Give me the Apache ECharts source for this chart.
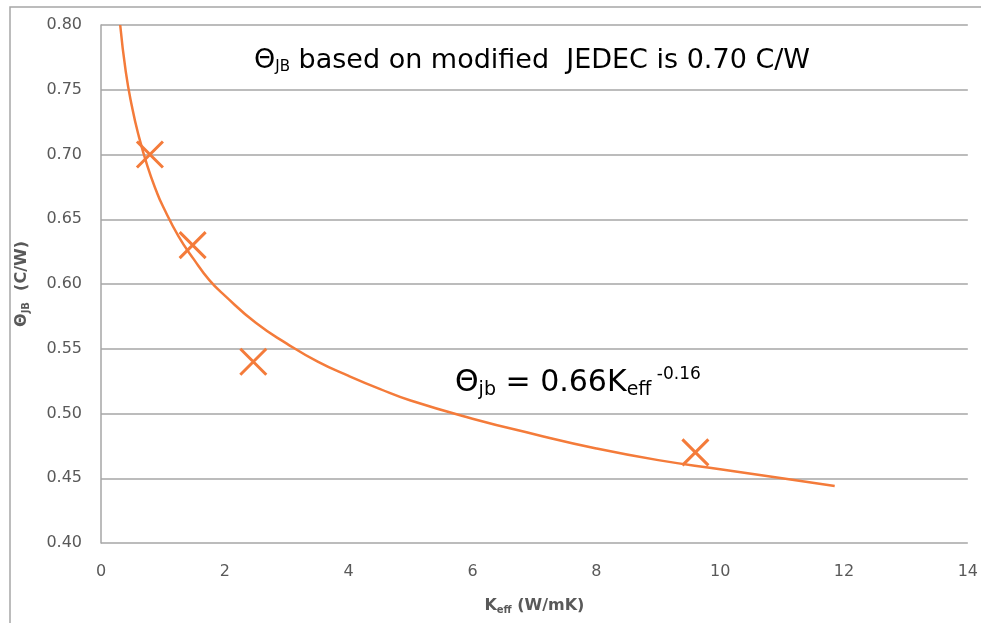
<!DOCTYPE html>
<html lang="en">

<head>
  <meta charset="UTF-8">
  <title>Theta JB vs Keff</title>
  <script src="https://cdn.jsdelivr.net/npm/echarts@6/dist/echarts.min.js"></script>
  <style>
    body { margin: 0; background: #fff; }
    #main { width: 981px; height: 623px; }
  </style>
</head>

<body>
  <div id="main"></div>
  <script type="text/javascript">
    // measured points (x markers)
    var keffPoints = [0.79, 1.48, 2.46, 9.6];
    var thetaPoints = [0.70, 0.63, 0.54, 0.47];

    // trend curve
    var curveKeff = [0.31, 0.4, 0.5, 0.6, 0.75, 0.9, 1.0, 1.25, 1.5, 1.75, 2.0, 2.5, 3.0, 3.5, 4.0, 4.5, 5.0, 6.0, 7.0, 8.0, 9.0, 10.0, 11.0, 11.85];
    var curveTheta = [0.800, 0.764, 0.737, 0.716, 0.691, 0.671, 0.660, 0.637, 0.619, 0.603, 0.591, 0.570, 0.554, 0.540, 0.529, 0.519, 0.510, 0.496, 0.484, 0.473, 0.464, 0.457, 0.450, 0.444];

    var orange = '#F47B3A';
    var grey = '#A6A6A6';
    var labelColor = '#595959';
    var textColor = '#404040';
    var font = '"DejaVu Sans", sans-serif';

    var myChart = echarts.init(document.getElementById('main'));

    var pts = keffPoints.map(function (k, i) { return [k, thetaPoints[i]]; });
    var curve = curveKeff.map(function (k, i) { return [k, curveTheta[i]]; });

    var titleRich = {
      b: { fontFamily: font, fontWeight: 'bold', fontSize: 16, color: labelColor },
      s: { fontFamily: font, fontWeight: 'bold', fontSize: 10, color: labelColor, padding: [8, 0, 0, 0] }
    };

    var option = {
      animation: false,
      backgroundColor: '#fff',
      grid: { left: 101, right: 12, top: 25, bottom: 80 },
      xAxis: {
        type: 'value',
        min: 0, max: 14, interval: 2,
        name: '{b|K}{s|eff}{b| (W/mK)}',
        nameLocation: 'middle',
        nameGap: 54,
        nameTextStyle: { rich: titleRich },
        axisLine: { show: false },
        axisTick: { show: false },
        splitLine: { show: false },
        axisLabel: { fontFamily: font, fontSize: 16, color: labelColor, margin: 21 }
      },
      yAxis: {
        type: 'value',
        min: 0.40, max: 0.80, interval: 0.05,
        name: '{b|Θ}{s|JB}{b|  (C/W)}',
        nameLocation: 'middle',
        nameRotate: 90,
        nameGap: 70,
        nameTextStyle: { rich: titleRich },
        axisLine: { show: true, lineStyle: { color: grey, width: 1.5 } },
        axisTick: { show: false },
        splitLine: { lineStyle: { color: grey, width: 1.5 } },
        axisLabel: {
          fontFamily: font, fontSize: 16, color: labelColor, margin: 19,
          formatter: function (v) { return v.toFixed(2); }
        }
      },
      series: [{
        type: 'line',
        data: curve,
        smooth: true,
        showSymbol: false,
        lineStyle: { color: orange, width: 2.5 }
      }, {
        type: 'scatter',
        data: pts,
        symbol: 'path://M0,0L10,10M10,0L0,10',
        symbolSize: 26,
        itemStyle: { color: 'none', borderColor: orange, borderWidth: 3, opacity: 1 },
        z: 3
      }],
      graphic: [{
        type: 'rect',
        silent: true,
        shape: { x: 10, y: 7, width: 1100, height: 800 },
        style: { fill: 'none', stroke: grey, lineWidth: 1.5 }
      }, {
        type: 'text',
        x: 254, y: 61,
        style: {
          text: '{a|Θ}{s|JB}{a| based on modified  JEDEC is 0.70 C/W}',
          verticalAlign: 'middle',
          rich: {
            a: { fontFamily: font, fontSize: 27, color: textColor },
            s: { fontFamily: font, fontSize: 15, color: textColor, padding: [13, 0, 0, 0] }
          }
        }
      }, {
        type: 'text',
        x: 455, y: 383,
        style: {
          text: '{a|Θ}{s|jb}{a| = 0.66K}{s|eff}{p| -0.16}',
          verticalAlign: 'middle',
          rich: {
            a: { fontFamily: font, fontSize: 30, color: textColor },
            s: { fontFamily: font, fontSize: 19, color: textColor, padding: [15, 0, 0, 0] },
            p: { fontFamily: font, fontSize: 17, color: textColor, padding: [0, 0, 17, 0] }
          }
        }
      }]
    };

    myChart.setOption(option);

    window.onresize = function () {
      myChart.resize();
    };
  </script>
</body>

</html>
